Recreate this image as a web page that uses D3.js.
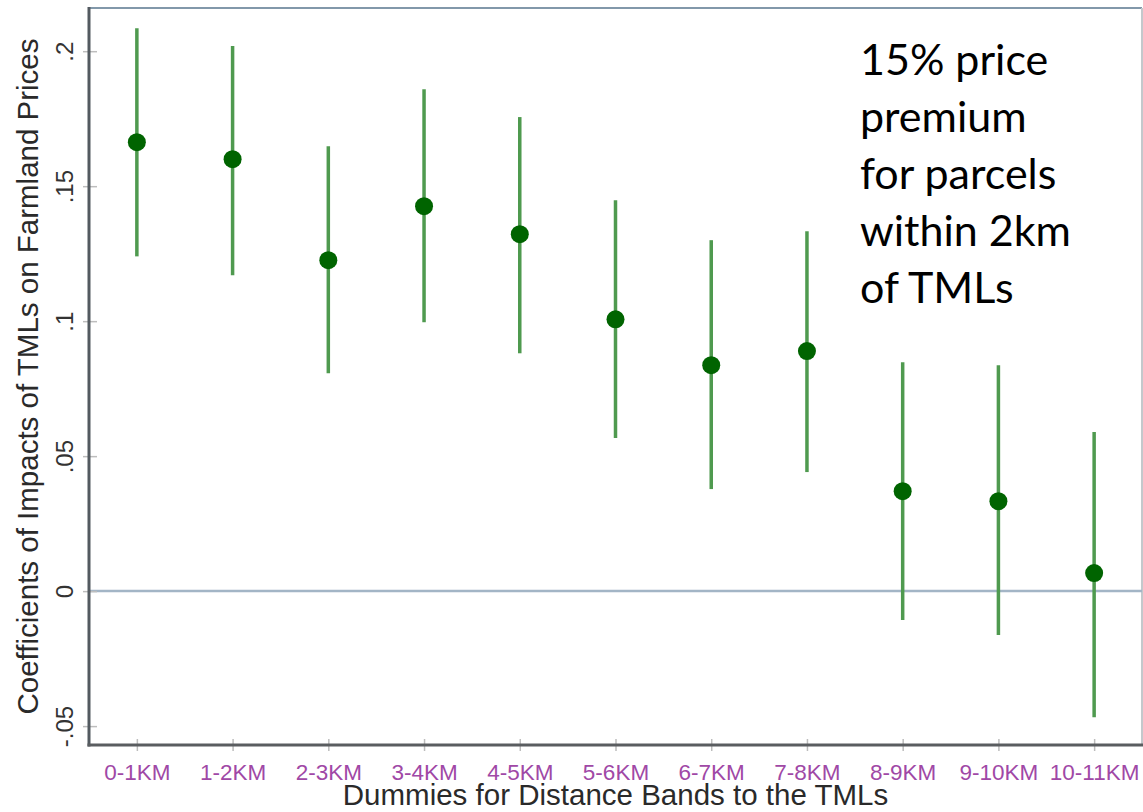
<!DOCTYPE html>
<html>
<head>
<meta charset="utf-8">
<script src="https://cdn.jsdelivr.net/npm/d3@7"></script>
<style>
  html, body { margin: 0; padding: 0; background: #fff; }
  svg { display: block; }
</style>
</head>
<body>
<svg id="chart" width="1143" height="812"></svg>
<script>
// Distance bands from the transmission lines
const bands = ["0-1KM", "1-2KM", "2-3KM", "3-4KM", "4-5KM", "5-6KM",
               "6-7KM", "7-8KM", "8-9KM", "9-10KM", "10-11KM"];
// Point estimates and 95% confidence bounds
const coef  = [0.1663, 0.1600, 0.1226, 0.1426, 0.1322, 0.1007, 0.0837, 0.0889, 0.0370, 0.0333, 0.0067];
const upper = [0.2085, 0.2019, 0.1648, 0.1859, 0.1756, 0.1448, 0.1300, 0.1333, 0.0848, 0.0837, 0.0589];
const lower = [0.1240, 0.1170, 0.0807, 0.0996, 0.0881, 0.0567, 0.0378, 0.0441, -0.0107, -0.0163, -0.0467];
// Y axis ticks
const yTickValues = [-0.05, 0, 0.05, 0.1, 0.15, 0.2];
const yTickLabels = ["-.05", "0", ".05", ".1", ".15", ".2"];
// Annotation text
const noteLines = ["15% price", "premium", "for parcels", "within 2km", "of TMLs"];

const svg = d3.select("#chart");
const plotLeft = 89, plotRight = 1142, plotTop = 8, plotBottom = 745;

const x = d3.scalePoint().domain(bands).range([plotLeft, plotRight]).padding(0.5);
const y = d3.scaleLinear().domain([-0.057, 0.216]).range([plotBottom, plotTop]);

// Plot frame: top and right edges
svg.append("line").attr("x1", plotLeft).attr("x2", plotRight).attr("y1", plotTop).attr("y2", plotTop)
  .attr("stroke", "#8298aa").attr("stroke-width", 2);
svg.append("line").attr("x1", plotRight).attr("x2", plotRight).attr("y1", plotTop).attr("y2", plotBottom)
  .attr("stroke", "#c4c8cc").attr("stroke-width", 2);

// Zero reference line
svg.append("line").attr("x1", plotLeft).attr("x2", plotRight).attr("y1", y(0)).attr("y2", y(0))
  .attr("stroke", "#a3b5c6").attr("stroke-width", 2.5);

// Y axis
const yAxis = svg.append("g").attr("transform", `translate(${plotLeft},0)`)
  .call(d3.axisLeft(y).tickValues(yTickValues).tickFormat((d, i) => yTickLabels[i]).tickSize(6));
yAxis.select(".domain").remove();
yAxis.selectAll(".tick line").attr("x1", 8).attr("x2", -6).attr("stroke", "#bdbdbd").attr("stroke-width", 1.5);
yAxis.selectAll(".tick text")
  .attr("x", null).attr("dy", null)
  .attr("transform", "translate(-16,0) rotate(-90)")
  .attr("text-anchor", "middle")
  .attr("fill", "#333")
  .style("font-family", "'Liberation Sans', Arial, sans-serif")
  .style("font-size", "24px");

// X axis
const xAxis = svg.append("g").attr("transform", `translate(0,${plotBottom})`)
  .call(d3.axisBottom(x).tickSize(6));
xAxis.select(".domain").remove();
xAxis.selectAll(".tick line").attr("y1", -6).attr("y2", 6).attr("stroke", "#bdbdbd").attr("stroke-width", 1.5);
xAxis.selectAll(".tick text")
  .attr("y", 35).attr("dy", null)
  .attr("fill", "#a048a6")
  .style("font-family", "'Liberation Sans', Arial, sans-serif")
  .style("font-size", "22.5px");

// Axis lines
svg.append("line").attr("x1", plotLeft).attr("x2", plotLeft).attr("y1", plotTop - 1).attr("y2", plotBottom + 1.5)
  .attr("stroke", "#535a60").attr("stroke-width", 3);
svg.append("line").attr("x1", plotLeft - 1.5).attr("x2", plotRight + 1).attr("y1", plotBottom).attr("y2", plotBottom)
  .attr("stroke", "#5a5d60").attr("stroke-width", 3);

// Confidence intervals
svg.append("g").selectAll("line").data(bands).join("line")
  .attr("x1", d => x(d)).attr("x2", d => x(d))
  .attr("y1", (d, i) => y(upper[i])).attr("y2", (d, i) => y(lower[i]))
  .attr("stroke", "#4f9a4f").attr("stroke-width", 3.5);

// Point estimates
svg.append("g").selectAll("circle").data(bands).join("circle")
  .attr("cx", d => x(d)).attr("cy", (d, i) => y(coef[i]))
  .attr("r", 9).attr("fill", "#006400");

// Axis titles
svg.append("text").attr("x", (plotLeft + plotRight) / 2).attr("y", 805)
  .attr("text-anchor", "middle").attr("fill", "#2a2a2a")
  .style("font-family", "'Liberation Sans', Arial, sans-serif").style("font-size", "29.5px")
  .text("Dummies for Distance Bands to the TMLs");
svg.append("text").attr("transform", `translate(38,${(plotTop + plotBottom) / 2}) rotate(-90)`)
  .attr("text-anchor", "middle").attr("fill", "#2a2a2a")
  .style("font-family", "'Liberation Sans', Arial, sans-serif").style("font-size", "29.5px")
  .text("Coefficients of Impacts of TMLs on Farmland Prices");

// Annotation
svg.append("g").selectAll("text").data(noteLines).join("text")
  .attr("x", 860).attr("y", (d, i) => 75 + i * 57)
  .attr("fill", "#000")
  .style("font-family", "Lato, 'Open Sans', sans-serif").style("font-size", "43px")
  .text(d => d);
</script>
</body>
</html>
